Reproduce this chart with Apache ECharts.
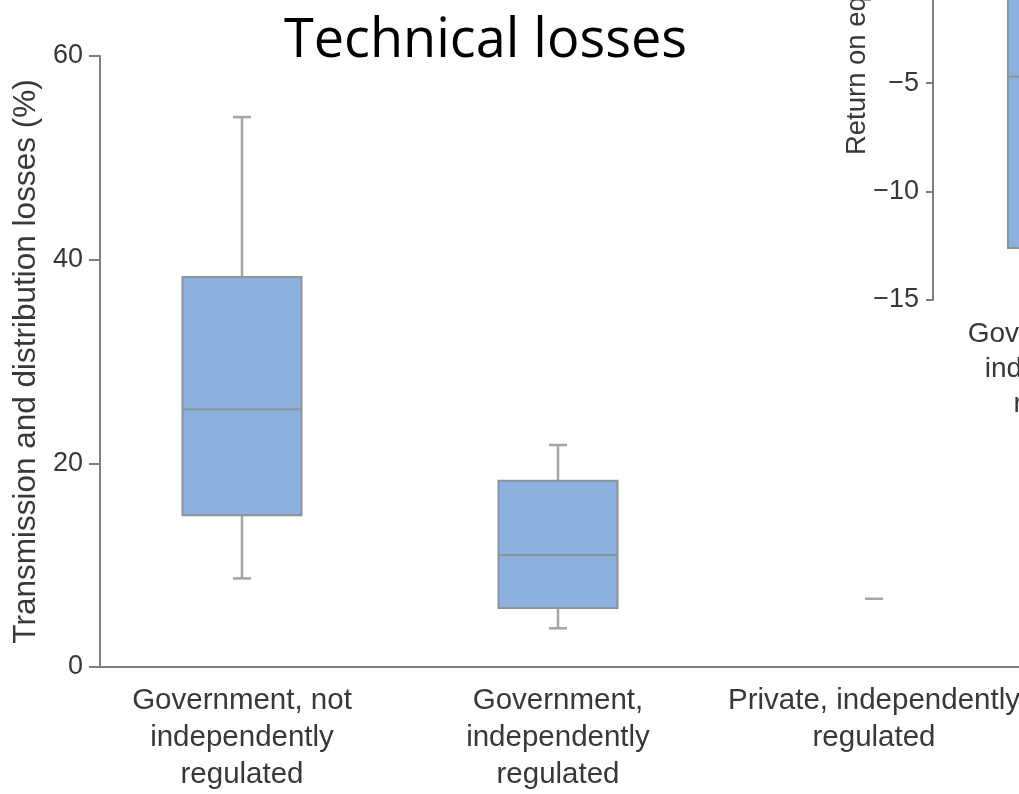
<!DOCTYPE html>
<html>
<head>
<meta charset="utf-8">
<script src="https://cdn.jsdelivr.net/npm/echarts@6/dist/echarts.min.js"></script>
<style>
  html, body { margin: 0; padding: 0; background: #fff; }
  #chart { width: 1019px; height: 794px; }
</style>
</head>
<body>
<div id="chart"></div>
<script>
// Ownership / regulation groups
const categories = [
  'Government, not\nindependently\nregulated',
  'Government,\nindependently\nregulated',
  'Private, independently\nregulated'
];

// Transmission and distribution losses (%): five-number summary per group
const lossMin    = [8.7, 3.8, 6.7];
const lossQ1     = [14.9, 5.8, 6.7];
const lossMedian = [25.3, 11.0, 6.7];
const lossQ3     = [38.3, 18.3, 6.7];
const lossMax    = [54.0, 21.8, 6.7];
const lossTicks  = [0, 20, 40, 60];

// Return on equity (%): summary for the first group of the side panel
const roeMin    = [-12.6];
const roeQ1     = [-12.6];
const roeMedian = [-4.7];
const roeQ3     = [1.5];
const roeMax    = [6.0];
const roeTicks  = [-15, -10, -5, 0, 5, 10];

const LABEL_FONT = '"Liberation Sans", Arial, sans-serif';
const AXIS_GREY = '#7f7f7f';
const TEXT_GREY = '#383838';

function rows(mins, q1s, meds, q3s, maxs) {
  return mins.map((v, i) => [i, v, q1s[i], meds[i], q3s[i], maxs[i]]);
}

const minus = v => String(v).replace('-', '\u2212');

// Box-and-whisker glyph drawn through the axes' own coordinate mapping
function boxRenderer(boxRatio) {
  return function (params, api) {
    const idx = api.value(0);
    const vLo = api.value(1), vQ1 = api.value(2), vMed = api.value(3), vQ3 = api.value(4), vHi = api.value(5);
    const lo = api.coord([idx, vLo]);
    const q1 = api.coord([idx, vQ1]);
    const med = api.coord([idx, vMed]);
    const q3 = api.coord([idx, vQ3]);
    const hi = api.coord([idx, vHi]);
    const band = api.size([1, 0])[0];
    const half = band * boxRatio / 2;
    const cap = 9;
    const cx = med[0];
    const whisker = { stroke: '#a4a4a4', lineWidth: 2.5 };
    const edge = { stroke: '#8c939b', lineWidth: 2 };
    const children = [];
    if (vQ1 === vQ3) {
      // a single observation: just a short tick at its value
      children.push({ type: 'line', shape: { x1: cx - cap, y1: med[1], x2: cx + cap, y2: med[1] }, style: whisker });
      return { type: 'group', children };
    }
    if (vHi > vQ3) {
      children.push(
        { type: 'line', shape: { x1: cx, y1: hi[1], x2: cx, y2: q3[1] }, style: whisker },
        { type: 'line', shape: { x1: cx - cap, y1: hi[1], x2: cx + cap, y2: hi[1] }, style: whisker }
      );
    }
    if (vLo < vQ1) {
      children.push(
        { type: 'line', shape: { x1: cx, y1: lo[1], x2: cx, y2: q1[1] }, style: whisker },
        { type: 'line', shape: { x1: cx - cap, y1: lo[1], x2: cx + cap, y2: lo[1] }, style: whisker }
      );
    }
    children.push(
      { type: 'rect', shape: { x: cx - half, y: q3[1], width: 2 * half, height: q1[1] - q3[1] },
        style: { fill: '#8db1df', stroke: edge.stroke, lineWidth: edge.lineWidth } },
      { type: 'line', shape: { x1: cx - half, y1: med[1], x2: cx + half, y2: med[1] }, style: edge }
    );
    return { type: 'group', children };
  };
}

const chart = echarts.init(document.getElementById('chart'), null, { renderer: 'canvas' });

const lossAxisMin = lossTicks[0];
const lossAxisMax = lossTicks[lossTicks.length - 1];
const lossStep = lossTicks[1] - lossTicks[0];
const roeAxisMin = roeTicks[0];
const roeAxisMax = roeTicks[roeTicks.length - 1];
const roeStep = roeTicks[1] - roeTicks[0];

chart.setOption({
  backgroundColor: '#ffffff',
  animation: false,
  title: {
    text: 'Technical losses',
    left: 279,
    top: 10,
    textStyle: { fontFamily: '"Open Sans", sans-serif', fontSize: 54, fontWeight: 'normal', color: '#000' }
  },
  grid: [
    // boxes
    { left: 84, top: 56, width: 948, height: 611, outerBoundsMode: 'none' },
    // main axes frame
    { left: 100, top: 56, right: 0, height: 611, outerBoundsMode: 'none' },
    // side panel
    { left: 933, top: -242, width: 834, height: 542, outerBoundsMode: 'none' }
  ],
  xAxis: [
    {
      gridIndex: 0, type: 'category', data: categories,
      axisLine: { show: false }, axisTick: { show: false },
      axisLabel: { interval: 0, fontFamily: LABEL_FONT, fontSize: 29.5, lineHeight: 37, color: TEXT_GREY, margin: 15 }
    },
    {
      gridIndex: 1, type: 'value', min: 0, max: 1,
      axisLine: { show: true, lineStyle: { color: AXIS_GREY, width: 2 } },
      axisTick: { show: false }, axisLabel: { show: false }, splitLine: { show: false }
    },
    {
      gridIndex: 2, type: 'category', data: categories,
      axisLine: { show: true, lineStyle: { color: AXIS_GREY, width: 2 } },
      axisTick: { show: false },
      axisLabel: { interval: 0, fontFamily: LABEL_FONT, fontSize: 28, lineHeight: 35, color: TEXT_GREY, margin: 17 }
    }
  ],
  yAxis: [
    { gridIndex: 0, type: 'value', min: lossAxisMin, max: lossAxisMax, show: false },
    {
      gridIndex: 1, type: 'value', min: lossAxisMin, max: lossAxisMax, interval: lossStep,
      name: 'Transmission and distribution losses (%)',
      nameLocation: 'middle', nameGap: 58,
      nameTextStyle: { fontFamily: LABEL_FONT, fontSize: 31.5, color: TEXT_GREY },
      axisLine: { show: true, lineStyle: { color: AXIS_GREY, width: 2 } },
      axisTick: { show: true, length: 11, lineStyle: { color: AXIS_GREY, width: 2 } },
      axisLabel: { fontFamily: LABEL_FONT, fontSize: 27, color: TEXT_GREY, margin: 17 },
      splitLine: { show: false }
    },
    {
      gridIndex: 2, type: 'value', min: roeAxisMin, max: roeAxisMax, interval: roeStep,
      name: 'Return on equity (%)',
      nameLocation: 'middle', nameGap: 62, nameMoveOverlap: false,
      nameTextStyle: { fontFamily: LABEL_FONT, fontSize: 27.5, color: TEXT_GREY },
      axisLine: { show: true, lineStyle: { color: AXIS_GREY, width: 2 } },
      axisTick: { show: true, length: 7, lineStyle: { color: AXIS_GREY, width: 2 } },
      axisLabel: { fontFamily: LABEL_FONT, fontSize: 27, color: TEXT_GREY, margin: 14, formatter: minus },
      splitLine: { show: false }
    }
  ],
  series: [
    {
      type: 'custom', name: 'Losses', xAxisIndex: 0, yAxisIndex: 0,
      encode: { x: 0, y: [1, 2, 3, 4, 5] },
      renderItem: boxRenderer(119 / 316),
      data: rows(lossMin, lossQ1, lossMedian, lossQ3, lossMax)
    },
    {
      type: 'custom', name: 'Return on equity', xAxisIndex: 2, yAxisIndex: 2,
      encode: { x: 0, y: [1, 2, 3, 4, 5] },
      renderItem: boxRenderer(128 / 278),
      data: rows(roeMin, roeQ1, roeMedian, roeQ3, roeMax)
    }
  ]
});
</script>
</body>
</html>
